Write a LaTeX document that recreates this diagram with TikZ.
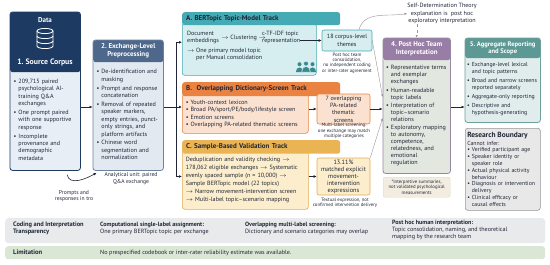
\documentclass[tikz,border=0pt]{standalone}
\usepackage{fontspec}
\setmainfont{PT Sans}
\usetikzlibrary{arrows.meta,positioning,fit,calc}
\definecolor{navyblue}{RGB}{28,58,98}
\definecolor{paleblue}{RGB}{231,238,246}
\definecolor{slate}{RGB}{78,104,140}
\definecolor{paleslate}{RGB}{226,233,241}
\definecolor{slateline}{RGB}{110,130,160}
\definecolor{teal}{RGB}{70,170,180}
\definecolor{paleteal}{RGB}{214,238,240}
\definecolor{orange}{RGB}{234,130,66}
\definecolor{paleorange}{RGB}{251,226,208}
\definecolor{amber}{RGB}{234,180,84}
\definecolor{amberline}{RGB}{224,172,86}
\definecolor{paleamber}{RGB}{252,238,204}
\definecolor{purple}{RGB}{152,126,166}
\definecolor{purpleline}{RGB}{150,136,160}
\definecolor{sage}{RGB}{226,232,224}
\definecolor{beige}{RGB}{243,237,225}
\definecolor{beigeline}{RGB}{225,215,195}
\definecolor{tealgray}{RGB}{92,152,148}
\definecolor{tgline}{RGB}{110,160,156}
\definecolor{paletg}{RGB}{224,237,236}
\definecolor{boundfill}{RGB}{232,232,232}
\definecolor{boundline}{RGB}{150,150,150}
\definecolor{bandgray}{RGB}{232,234,236}
\definecolor{limgreen}{RGB}{218,231,213}
\definecolor{inkdark}{RGB}{32,38,55}
\definecolor{linegray}{RGB}{150,150,150}
\newcommand{\fsbody}{\fontsize{6.1}{7.4}\selectfont}
\newcommand{\fshead}{\fontsize{7}{8}\selectfont\bfseries}
\newcommand{\fsnote}{\fontsize{4.8}{5.3}\selectfont}
\newcommand{\bu}{\textbullet\ }
\newcommand{\hg}{\phantom{\textbullet\ }}

\begin{document}
\begin{tikzpicture}[x=1pt, y=1pt,
      arr/.style={-{Latex[length=3pt,width=2.8pt]}, line width=0.7pt, inkdark},
      garr/.style={-{Latex[length=2.6pt,width=2.2pt]}, line width=0.4pt, linegray},
      hdbox/.style={anchor=north west, rounded corners=2.5pt, inner sep=1pt,
                    align=center, font=\fshead},
      bodybox/.style={anchor=north west, rounded corners=2.5pt, align=left,
                      inner xsep=3.5pt, inner ysep=2pt, font=\fsbody, text=inkdark},
      frame/.style={rounded corners=2.5pt, inner sep=0pt, line width=0.8pt},
      resbox/.style={rounded corners=2pt, align=center, inner sep=1pt,
                     font=\fsbody, text=inkdark, line width=0.6pt},
      note/.style={align=center, inner sep=0pt, font=\fsnote, text=inkdark},
      txt/.style={align=left, inner sep=0pt, font=\fsbody, text=inkdark}
    ]
    \useasboundingbox (0,0) rectangle (550,-265);

    % 1. source corpus
    \node[bodybox, fill=paleblue, text width=63, minimum height=101] (bd1) at (10,-69) {%
      \bu 209,715 paired\\\hg psychological AI-\\\hg training Q\&A\\\hg exchanges\\[1.5pt]
      \bu One prompt paired\\\hg with one supportive\\\hg response\\[1.5pt]
      \bu Incomplete\\\hg provenance and\\\hg demographic\\\hg metadata};
    \node[hdbox, fill=navyblue, minimum width=70, minimum height=60] (hd1) at (10,-12) {};
    \node[font=\fshead, text=white, inner sep=0] (data) at (45,-20) {Data};
    \begin{scope}[shift={(45,-31)}, white, line width=0.8pt]
      \draw (0,0) ellipse[x radius=8, y radius=2.6];
      \draw (-8,0) -- (-8,-15) arc[start angle=180, end angle=360, x radius=8, y radius=2.6] -- (8,0);
      \draw (-8,-5) arc[start angle=180, end angle=360, x radius=8, y radius=2.6];
      \draw (-8,-10) arc[start angle=180, end angle=360, x radius=8, y radius=2.6];
    \end{scope}
    \node[font=\fontsize{7.8}{9}\selectfont\bfseries, text=white, inner sep=0] (src) at (45,-62) {1.\ Source Corpus};
    \node[fit=(hd1)(bd1), frame, draw=navyblue] (box1) {};

    % 2. preprocessing
    \node[bodybox, fill=paleslate, text width=63, minimum height=111] (bd2) at (93,-59) {%
      \bu De-identification and\\\hg masking\\[1.5pt]
      \bu Prompt and response\\\hg concatenation\\[1.5pt]
      \bu Removal of repeated\\\hg speaker markers,\\\hg empty entries, punct-\\\hg only strings, and\\\hg platform artifacts\\[1.5pt]
      \bu Chinese word\\\hg segmentation and\\\hg normalization};
    \node[hdbox, fill=slate, text=white, minimum width=70, minimum height=22] (hd2) at (93,-40) {2.\ Exchange-Level\\Preprocessing};
    \node[fit=(hd2)(bd2), frame, draw=slateline] (box2) {};

    % A. topic-model track
    \node[bodybox, draw=teal, fill=paleteal, minimum width=134, minimum height=52, line width=0.6pt] (bdA) at (182,-23) {};
    \node[hdbox, fill=teal, text=inkdark, inner xsep=4pt, text width=150, align=left, minimum height=13] (hdA) at (182,-12) {A.\ BERTopic Topic-Model Track};
    \node[txt, anchor=west] (doc) at (187,-37.5) {Document\\embeddings};
    \node[txt, right=2pt of doc] (clu) {$\to$ Clustering $\to$};
    \node[txt, anchor=west] (ctf) at (262,-37.5) {c-TF-IDF topic\\representation};
    \node[txt, anchor=north west] (prim) at (187,-48) {$\to$ One primary model topic\\\phantom{$\to$} per Manual consolidation};
    \begin{scope}[shift={(306,-67)}]
      \foreach \dx in {-6.5,6.5}{
        \fill[teal!80!black] (\dx,2.8) circle (2);
        \fill[teal!80!black] (\dx-3.6,-5) arc[start angle=180, end angle=0, x radius=3.6, y radius=4.6] -- cycle;
      }
      \fill[teal!80!black, draw=paleteal, line width=0.5pt] (0,3.4) circle (2.4);
      \fill[teal!80!black, draw=paleteal, line width=0.5pt] (-4.4,-5) arc[start angle=180, end angle=0, x radius=4.4, y radius=5.6] -- cycle;
    \end{scope}
    \node[resbox, draw=teal, fill=paleteal, minimum width=50, minimum height=21] (b18) at (347,-40.5) {18 corpus-level\\themes};
    \node[note] (n18) at (347,-63) {Post hoc team\\consolidation,\\no independent coding\\or inter-rater agreement};

    % B. dictionary-screen track
    \node[bodybox, draw=orange, fill=paleorange, text width=119, minimum height=39, line width=0.6pt] (bdB) at (182,-94) {%
      \bu Youth-context lexicon\\
      \bu Broad PA/sport/PE/body/lifestyle screen\\
      \bu Emotion screens\\
      \bu Overlapping PA-related thematic screens};
    \node[hdbox, fill=orange, text=inkdark, inner xsep=4pt, text width=150, align=left, minimum height=14] (hdB) at (182,-82) {B.\ \ Overlapping Dictionary-Screen Track};
    \node[resbox, draw=orange, fill=paleorange, minimum width=53, minimum height=30] (b7) at (343.5,-109) {7 overlapping\\PA-related\\thematic\\screens};
    \node[note] (n7) at (344,-131) {Multi-label screening:\\one exchange may match\\multiple categories};

    % C. validation track
    \node[bodybox, draw=amberline, fill=paleamber, text width=119, minimum height=58, line width=0.6pt,
          font=\fontsize{6.1}{8}\selectfont] (bdC) at (182,-151) {%
      Deduplication and validity checking $\to$\\
      178,062 eligible exchanges $\to$ Systematic\\
      evenly spaced sample (n = 10,000) $\to$\\
      Sample BERTopic model (22 topics)\\
      $\to$ Narrow movement-intervention screen\\
      $\to$ Multi-label topic--scenario mapping};
    \node[hdbox, fill=amber, text=inkdark, inner xsep=4pt, text width=150, align=left, minimum height=13.5] (hdC) at (182,-140) {C.\ Sample-Based Validation Track};
    \node[resbox, draw=amberline, fill=paleamber, minimum width=53, minimum height=37,
          font=\fontsize{6.3}{7}\selectfont] (b13) at (343.5,-176.5) {13.11\%\\matched explicit\\movement-\\intervention\\expressions};
    \node[note] (n13) at (345,-203) {Textual expression, not\\confirmed intervention delivery};

    % 4. interpretation
    \node[bodybox, fill=sage, text width=61, inner xsep=3pt, minimum height=115, font=\fontsize{6.1}{7}\selectfont] (bd4) at (383,-58) {%
      \bu Representative terms\\\hg and exemplar\\\hg exchanges\\[1.2pt]
      \bu Human-readable\\\hg topic labels\\[1.2pt]
      \bu Interpretation of\\\hg topic--scenario\\\hg relations\\[1.2pt]
      \bu Exploratory mapping\\\hg to autonomy,\\\hg competence,\\\hg relatedness, and\\\hg emotional\\\hg regulation};
    \node[hdbox, fill=purple, text=white, minimum width=67, minimum height=22] (hd4) at (383,-38) {4.\ Post Hoc Team\\Interpretation};
    \node[fit=(hd4)(bd4), frame, draw=purpleline] (box4) {};
    \node[note, anchor=north west, rounded corners=2pt, fill=beige, draw=beigeline, line width=0.4pt,
          minimum width=67, minimum height=20] (n4) at (383,-177) {*Interpretive summaries,\\not validated psychological\\measurements};
    \node[txt, align=center] (sdt) at (442,-13.5) {Self-Determination Theory\\explanation is\ \ post hoc\\exploratory interpretation};

    % 5. reporting
    \node[bodybox, fill=paletg, text width=71, inner xsep=2pt, minimum height=66,
          font=\fontsize{5.8}{7.2}\selectfont] (bd5) at (465,-56) {%
      \bu Exchange-level lexical\\\hg and topic patterns\\[1.5pt]
      \bu Broad and narrow screens\\\hg reported separately\\[1.5pt]
      \bu Aggregate-only reporting\\[1.5pt]
      \bu Descriptive and\\\hg hypothesis-generating};
    \node[hdbox, fill=tealgray, text=white, minimum width=75, minimum height=20,
          font=\fontsize{6.6}{7.6}\selectfont\bfseries] (hd5) at (465,-38) {5.\ Aggregate Reporting\\and Scope};
    \node[fit=(hd5)(bd5), frame, draw=tgline] (box5) {};
    \node[bodybox, draw=boundline, fill=boundfill, text width=71, inner xsep=2pt, minimum height=82, line width=0.6pt,
          font=\fontsize{5.8}{6.8}\selectfont] (rb) at (465,-128) {%
      {\fontsize{7.4}{8.5}\selectfont\bfseries Research Boundary}\\[1pt]
      Cannot infer:\\
      \bu Verified participant age\\
      \bu Speaker identity or\\\hg speaker role\\
      \bu Actual physical activity\\\hg behaviour\\
      \bu Diagnosis or intervention\\\hg delivery\\
      \bu Clinical efficacy or\\\hg causal effects};

    % bottom bands
    \node[anchor=north west, rounded corners=3pt, fill=bandgray, minimum width=540, minimum height=25, inner sep=0] (band) at (5,-218) {};
    \node[txt, anchor=north west, font=\fontsize{6.4}{7.4}\selectfont\bfseries] (cod) at (13,-221.5) {Coding and Interpretation\\Transparency};
    \node[txt, anchor=north west, font=\fontsize{6.1}{7.2}\selectfont] (cod1) at (100,-221.5) {\textbf{Computational single-label assignment:}\\One primary BERTopic topic per exchange};
    \node[txt, anchor=north west, font=\fontsize{6.1}{7.2}\selectfont] (cod2) at (245,-221.5) {\textbf{Overlapping multi-label screening:}\\Dictionary and scenario categories may overlap};
    \node[txt, anchor=north west, font=\fontsize{6.1}{7}\selectfont] (cod3) at (392,-219.5) {\textbf{Post hoc human interpretation:}\\Topic consolidation, naming, and theoretical\\mapping by the research team};
    \node[anchor=north west, rounded corners=3pt, fill=limgreen, minimum width=540, minimum height=13, inner sep=0] (limband) at (5,-246) {};
    \node[txt, anchor=west, font=\fontsize{6.6}{8}\selectfont\bfseries] (limlab) at (13,-252.5) {Limitation};
    \node[txt, anchor=west] (limtxt) at (100,-252.5) {No prespecified codebook or inter-rater reliability estimate was available.};

    % connectors
    \coordinate (trunk) at (176,-107);
    \draw[arr] (box1.east |- trunk) -- (box2.west |- trunk);
    \draw[line width=0.7pt, inkdark] (box2.east |- trunk) -- (trunk);
    \draw[arr] (trunk) |- ([yshift=7]bdA.west);
    \draw[arr] (trunk) -- (bdB.west |- trunk);
    \draw[arr] (trunk) |- (bdC.west |- b13.west);
    \draw[arr] (ctf.east |- b18.west) -- (b18.west);
    \draw[arr] (bdB.east |- b7.west) -- (b7.west);
    \draw[arr] (bdC.east |- b13.west) -- (b13.west);
    \draw[arr] (b7.east) -- (box4.west |- b7.east);
    \draw[garr] (b18.east) -- ($(box4.west |- trunk)+(0,10)$);
    \draw[garr] (b13.north east) -- ($(box4.west |- trunk)+(0,-11)$);
    \draw[garr] ($(b18.north)+(12,0)$) to[out=75, in=190] (sdt.west);
    \draw[garr, dashed] (sdt.south -| box4.north) -- (box4.north);
    \draw[arr] (box4.east |- trunk) -- (box5.west |- trunk);
    \draw[arr, line width=0.6pt] ($(box1.south)+(22,-4)$) to[out=-80, in=-150] ($(box2.south west)+(4,-2)$);
    \node[note, font=\fontsize{5.6}{6.6}\selectfont] (prm) at (74,-196) {Prompts and\\responses in tro};
    \node[note, font=\fontsize{5.6}{6.6}\selectfont] (unit) at (131,-178.5) {Analytical unit: paired\\Q\&A exchange};
  \end{tikzpicture}
\end{document}
